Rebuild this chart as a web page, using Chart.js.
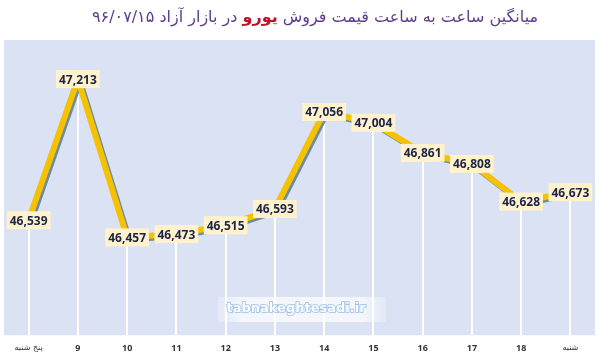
<!DOCTYPE html>
<html>
<head>
<meta charset="utf-8">
<script src="https://cdn.jsdelivr.net/npm/chart.js@4.4.1/dist/chart.umd.min.js"></script>
<style>
  html,body{margin:0;padding:0;background:#ffffff;}
  #wrap{position:relative;width:600px;height:360px;overflow:hidden;}
  #title{position:absolute;top:7px;left:15px;width:600px;text-align:center;direction:rtl;
    font-family:"DejaVu Sans",sans-serif;font-size:16px;color:#5d3d8c;white-space:nowrap;}
  #title .hl{color:#c0102a;font-weight:bold;}
</style>
</head>
<body>
<div id="wrap">
  <canvas id="c" width="600" height="360"></canvas>
  <div id="title">میانگین ساعت به ساعت قیمت فروش <span class="hl">یورو</span> در بازار آزاد ۹۶/۰۷/۱۵</div>
</div>
<script>
const categories = ["پنج شنبه", "9", "10", "11", "12", "13", "14", "15", "16", "17", "18", "شنبه"];
const euroPrices = [46539, 47213, 46457, 46473, 46515, 46593, 47056, 47004, 46861, 46808, 46628, 46673];
const watermarkText = "tabnakeghtesadi.ir";

const bgPlugin = {
  id: 'bg',
  beforeDraw(chart) {
    const {ctx, chartArea: a} = chart;
    ctx.save();
    ctx.fillStyle = '#dae2f3';
    ctx.fillRect(a.left, a.top, a.right - a.left, a.bottom - a.top);
    ctx.restore();
  },
  beforeDatasetsDraw(chart) {
    const {ctx, chartArea: a} = chart;
    const meta = chart.getDatasetMeta(0);
    ctx.save();
    ctx.strokeStyle = '#ffffff';
    ctx.lineWidth = 2;
    meta.data.forEach(p => {
      ctx.beginPath();
      ctx.moveTo(Math.round(p.x), p.y);
      ctx.lineTo(Math.round(p.x), a.bottom);
      ctx.stroke();
    });
    // watermark
    const cx = 296, cy = 309;
    const g = ctx.createLinearGradient(cx - 80, 0, cx + 92, 0);
    g.addColorStop(0, 'rgba(255,255,255,0.2)');
    g.addColorStop(0.15, 'rgba(255,255,255,0.7)');
    g.addColorStop(0.85, 'rgba(255,255,255,0.7)');
    g.addColorStop(1, 'rgba(255,255,255,0.2)');
    ctx.fillStyle = g;
    ctx.fillRect(cx - 78, cy - 12, 168, 25);
    ctx.font = 'bold 13px "DejaVu Sans", sans-serif';
    ctx.textAlign = 'center';
    ctx.textBaseline = 'middle';
    ctx.lineWidth = 1.6;
    ctx.strokeStyle = '#9cc0e6';
    ctx.strokeText(watermarkText, cx, cy);
    ctx.fillStyle = '#ffffff';
    ctx.fillText(watermarkText, cx, cy);
    ctx.restore();
  },
  beforeDatasetDraw(chart) {
    const ctx = chart.ctx;
    ctx.save();
    ctx.shadowColor = 'rgba(80,120,140,0.8)';
    ctx.shadowOffsetX = 2;
    ctx.shadowOffsetY = 2;
    ctx.shadowBlur = 0;
  },
  afterDatasetDraw(chart) {
    chart.ctx.restore();
  },
  afterDatasetsDraw(chart) {
    const {ctx} = chart;
    const meta = chart.getDatasetMeta(0);
    ctx.save();
    ctx.font = 'bold 12px "Open Sans", sans-serif';
    ctx.textAlign = 'center';
    ctx.textBaseline = 'middle';
    meta.data.forEach((p, i) => {
      const txt = euroPrices[i].toLocaleString('en-US');
      const w = ctx.measureText(txt).width + 6;
      const h = 18;
      ctx.fillStyle = '#fff2cc';
      ctx.fillRect(p.x - w / 2, p.y - h / 2, w, h);
      ctx.fillStyle = '#1c2547';
      ctx.fillText(txt, p.x, p.y + 1);
    });
    ctx.restore();
  }
};

new Chart(document.getElementById('c'), {
  type: 'line',
  data: {
    labels: categories,
    datasets: [{
      data: euroPrices,
      borderColor: '#f6c100',
      borderWidth: 6,
      pointRadius: 0,
      tension: 0,
      fill: false
    }]
  },
  options: {
    responsive: false,
    animation: false,
    layout: {padding: {top: 40, left: 4, right: 5, bottom: 6}},
    plugins: {legend: {display: false}, tooltip: {enabled: false}, title: {display: false}},
    scales: {
      x: {
        offset: true,
        grid: {display: false},
        border: {display: false},
        ticks: {
          padding: 0,
          color: '#333333',
          maxRotation: 0,
          autoSkip: false,
          font: (c) => {
            const lbl = categories[c.index] || '';
            const isText = /[^0-9]/.test(lbl);
            return isText
              ? {family: '"DejaVu Sans", sans-serif', size: 8, weight: 'normal'}
              : {family: '"Open Sans", sans-serif', size: 9, weight: 'bold'};
          }
        }
      },
      y: {
        display: false,
        min: 45990,
        max: 47400
      }
    }
  },
  plugins: [bgPlugin]
});
</script>
</body>
</html>
